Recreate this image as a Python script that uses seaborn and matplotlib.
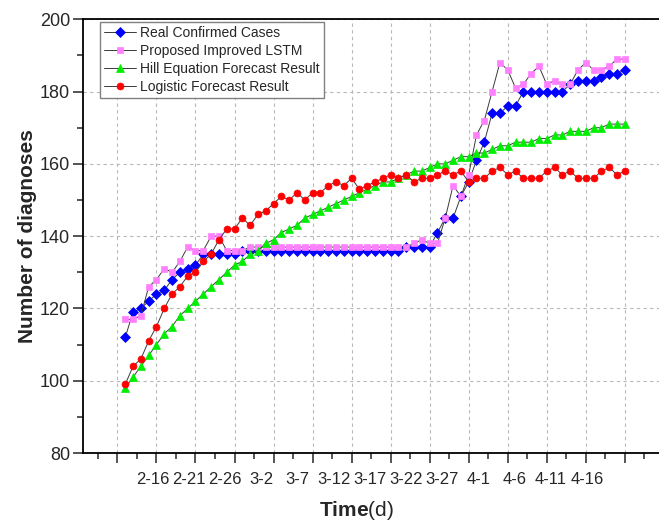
import numpy as np
import pandas as pd
import matplotlib.pyplot as plt
import seaborn as sns
from matplotlib.ticker import MultipleLocator

# days counted from 2-11, so 1 = 2-12 and 65 = 4-16
days = np.arange(1, 66)

real_cases = [112, 119, 120, 122, 124, 125, 128, 130, 131, 132,
              135, 135, 135, 135, 135, 136, 136, 136, 136, 136,
              136, 136, 136, 136, 136, 136, 136, 136, 136, 136,
              136, 136, 136, 136, 136, 136, 137, 137, 137, 137,
              141, 145, 145, 151, 155, 161, 166, 174, 174, 176,
              176, 180, 180, 180, 180, 180, 180, 182, 183, 183,
              183, 184, 185, 185, 186]

lstm = [117, 117, 118, 126, 128, 131, 130, 133, 137, 136,
        136, 140, 140, 136, 136, 136, 137, 137, 137, 137,
        137, 137, 137, 137, 137, 137, 137, 137, 137, 137,
        137, 137, 137, 137, 137, 137, 137, 138, 139, 138,
        138, 145, 154, 151, 157, 168, 172, 180, 188, 186,
        181, 182, 185, 187, 182, 183, 182, 182, 186, 188,
        186, 186, 187, 189, 189]

hill = [98, 101, 104, 107, 110, 113, 115, 118, 120, 122,
        124, 126, 128, 130, 132, 133, 135, 136, 138, 139,
        141, 142, 143, 145, 146, 147, 148, 149, 150, 151,
        152, 153, 154, 155, 155, 156, 157, 158, 158, 159,
        160, 160, 161, 162, 162, 163, 163, 164, 165, 165,
        166, 166, 166, 167, 167, 168, 168, 169, 169, 169,
        170, 170, 171, 171, 171]

logistic = [99, 104, 106, 111, 115, 120, 124, 126, 129, 130,
            133, 135, 139, 142, 142, 145, 143, 146, 147, 149,
            151, 150, 152, 150, 152, 152, 154, 155, 154, 156,
            153, 154, 155, 156, 157, 156, 157, 155, 156, 156,
            157, 158, 157, 158, 155, 156, 156, 158, 159, 157,
            158, 156, 156, 156, 158, 159, 157, 158, 156, 156,
            156, 158, 159, 157, 158]

tick_labels = ['2-16', '2-21', '2-26', '3-2', '3-7', '3-12', '3-17',
               '3-22', '3-27', '4-1', '4-6', '4-11', '4-16']

sns.set_style('ticks')
plt.rcParams['font.family'] = ['Liberation Sans', 'DejaVu Sans']
plt.rcParams['mathtext.fontset'] = 'custom'
plt.rcParams['mathtext.rm'] = 'Liberation Sans'
plt.rcParams['mathtext.bf'] = 'Liberation Sans:bold'

fig = plt.figure(figsize=(6.59, 5.23), dpi=100)
# axes runs past the right edge of the picture, like the cropped original
ax = fig.add_axes([0.1255, 0.1338, 0.9055, 0.8293])

series = [
    ('Real Confirmed Cases', real_cases, 'D', '#0000FF', 5),
    ('Proposed Improved LSTM', lstm, 's', '#FF80FF', 4.5),
    ('Hill Equation Forecast Result', hill, '^', '#00EE00', 5.5),
    ('Logistic Forecast Result', logistic, 'o', '#FF0000', 5),
]
for name, vals, mk, col, ms in series:
    sns.lineplot(x=days, y=vals, ax=ax, color='#3a3a3a', linewidth=0.7,
                 marker=mk, markersize=ms, markerfacecolor=col,
                 markeredgecolor=col, markeredgewidth=0.5, label=name)

ax.set_xlim(-4.45, 72)
ax.set_ylim(80, 200)
ax.xaxis.set_major_locator(MultipleLocator(5))
ax.xaxis.set_minor_locator(MultipleLocator(2.5))
ax.yaxis.set_major_locator(MultipleLocator(20))
ax.yaxis.set_minor_locator(MultipleLocator(10))
ax.grid(True, which='major', linestyle=(0, (3, 3)), color='#b8b8b8', linewidth=0.8)
ax.tick_params(axis='both', which='major', direction='out', length=7, width=1.1)
ax.tick_params(axis='both', which='minor', direction='out', length=4, width=1.1)
ax.tick_params(axis='x', which='both', labelbottom=False)
ax.tick_params(axis='y', labelsize=13, pad=2)
for side in ['left', 'bottom', 'top']:
    ax.spines[side].set_linewidth(1.3)
    ax.spines[side].set_color('black')
ax.spines['right'].set_visible(False)

# date labels sit on their own axis, spaced as in the original figure
sec = ax.secondary_xaxis('bottom')
sec.set_xticks(np.linspace(4.5, 60.2, len(tick_labels)), tick_labels)
sec.tick_params(length=0, pad=13.5, labelsize=12)
sec.spines['bottom'].set_visible(False)

ax.set_ylabel('Number of diagnoses', fontsize=15, fontweight='bold')
ax.yaxis.set_label_coords(-0.077, 0.5)
ax.set_xlabel(r'$\mathbf{Time}$(d)', fontsize=15)
ax.xaxis.set_label_coords(0.458, -0.106)

leg = ax.legend(loc='upper left', bbox_to_anchor=(0.029, 0.9945), borderaxespad=0,
                fontsize=10, frameon=True, fancybox=False, framealpha=1,
                edgecolor='#808080', labelspacing=0.28, borderpad=0.3,
                handlelength=2.3, handletextpad=0.3)
leg.get_frame().set_linewidth(1.0)

plt.savefig('out.png', dpi=100)
